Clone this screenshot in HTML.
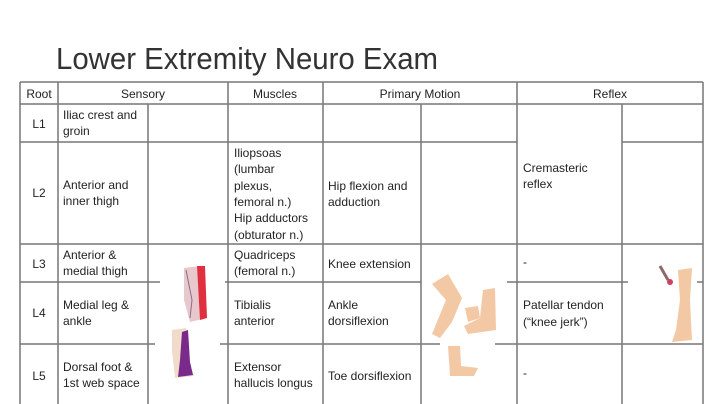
<!DOCTYPE html>
<html><head><meta charset="utf-8"><style>
html,body{margin:0;padding:0;background:#fff;}
svg{display:block;}
text{font-family:"Liberation Sans",sans-serif;fill:#222;font-size:12px;}
</style></head><body>
<svg width="720" height="404" viewBox="0 0 720 404" xmlns="http://www.w3.org/2000/svg">
<rect width="720" height="404" fill="#fff"/>
<text x="56" y="69" style="font-size:31px;fill:#333" textLength="382" lengthAdjust="spacingAndGlyphs">Lower Extremity Neuro Exam</text>
<g stroke="#777" stroke-width="1.5" fill="none">
<!-- outer / header -->
<line x1="20" y1="82" x2="703" y2="82"/>
<line x1="20" y1="104" x2="703" y2="104"/>
<line x1="20" y1="82" x2="20" y2="404"/>
<line x1="703" y1="82" x2="703" y2="404"/>
<!-- verticals -->
<line x1="58" y1="82" x2="58" y2="404"/>
<line x1="148" y1="104" x2="148" y2="404"/>
<line x1="228" y1="82" x2="228" y2="404"/>
<line x1="323" y1="82" x2="323" y2="404"/>
<line x1="421" y1="104" x2="421" y2="404"/>
<line x1="517" y1="82" x2="517" y2="404"/>
<line x1="622" y1="104" x2="622" y2="404"/>
<!-- row L1/L2 -->
<line x1="20" y1="142" x2="517" y2="142"/>
<line x1="622" y1="142" x2="703" y2="142"/>
<!-- row L2/L3 -->
<line x1="20" y1="244" x2="703" y2="244"/>
<!-- row L3/L4 -->
<line x1="20" y1="282" x2="160" y2="282"/>
<line x1="225" y1="282" x2="421" y2="282"/>
<line x1="507" y1="282" x2="628" y2="282"/>
<line x1="697" y1="282" x2="703" y2="282"/>
<!-- row L4/L5 -->
<line x1="20" y1="344" x2="155" y2="344"/>
<line x1="220" y1="344" x2="440" y2="344"/>
<line x1="495" y1="344" x2="703" y2="344"/>
</g>
<!-- header text -->
<text x="39" y="98" text-anchor="middle">Root</text>
<text x="143" y="98" text-anchor="middle">Sensory</text>
<text x="275" y="98" text-anchor="middle">Muscles</text>
<text x="420" y="98" text-anchor="middle">Primary Motion</text>
<text x="610" y="98" text-anchor="middle">Reflex</text>
<!-- L1 -->
<text x="39" y="128" text-anchor="middle">L1</text>
<text x="63" y="119">Iliac crest and</text>
<text x="63" y="135">groin</text>
<!-- L2 -->
<text x="39" y="197" text-anchor="middle">L2</text>
<text x="63" y="189">Anterior and</text>
<text x="63" y="205">inner thigh</text>
<text x="234" y="157">Iliopsoas</text>
<text x="234" y="173">(lumbar</text>
<text x="234" y="190">plexus,</text>
<text x="234" y="206">femoral n.)</text>
<text x="234" y="222">Hip adductors</text>
<text x="234" y="239">(obturator n.)</text>
<text x="328" y="190">Hip flexion and</text>
<text x="328" y="206">adduction</text>
<text x="523" y="172">Cremasteric</text>
<text x="523" y="188">reflex</text>
<!-- L3 -->
<text x="39" y="268" text-anchor="middle">L3</text>
<text x="63" y="259">Anterior &amp;</text>
<text x="63" y="275">medial thigh</text>
<text x="234" y="259">Quadriceps</text>
<text x="234" y="275">(femoral n.)</text>
<text x="328" y="268">Knee extension</text>
<text x="523" y="266">-</text>
<!-- L4 -->
<text x="39" y="317" text-anchor="middle">L4</text>
<text x="63" y="309">Medial leg &amp;</text>
<text x="63" y="325">ankle</text>
<text x="234" y="309">Tibialis</text>
<text x="234" y="325">anterior</text>
<text x="328" y="309">Ankle</text>
<text x="328" y="325">dorsiflexion</text>
<text x="523" y="309">Patellar tendon</text>
<text x="523" y="326">(“knee jerk”)</text>
<!-- L5 -->
<text x="39" y="380" text-anchor="middle">L5</text>
<text x="63" y="371">Dorsal foot &amp;</text>
<text x="63" y="387">1st web space</text>
<text x="234" y="371">Extensor</text>
<text x="234" y="387">hallucis longus</text>
<text x="328" y="380">Toe dorsiflexion</text>
<text x="523" y="377">-</text>
<!-- sensory images -->
<path d="M184 268 L200 266 L203 300 L207 318 L190 322 L184 300 Z" fill="#e8c8cc"/>
<path d="M197 266 L205 266 L207 318 L200 320 Z" fill="#e03040"/>
<path d="M186 270 L192 300 L190 318" stroke="#8a6a8a" stroke-width="1" fill="none"/>
<path d="M172 330 L186 328 L188 360 L194 376 L175 378 L172 350 Z" fill="#f0dcc8"/>
<path d="M182 332 L188 330 L190 362 L193 375 L178 377 L180 360 Z" fill="#7a2a8a"/>
<!-- motion images -->
<path d="M432 284 L448 274 L462 298 L452 322 L440 338 L432 334 L446 300 Z" fill="#f2c9a4"/>
<path d="M483 290 L495 288 L496 330 L468 334 L464 326 L480 318 Z" fill="#f2c9a4"/>
<path d="M465 308 L478 306 L480 318 L468 322 Z" fill="#f2c9a4"/>
<path d="M448 346 L460 346 L461 366 L478 368 L474 376 L450 376 Z" fill="#f2c9a4"/>
<!-- reflex image -->
<path d="M678 270 L692 268 L690 300 L692 340 L672 342 L676 330 L680 300 Z" fill="#f2c9a4"/>
<line x1="660" y1="266" x2="668" y2="280" stroke="#8a6a6a" stroke-width="3"/>
<circle cx="670" cy="282" r="3" fill="#d04060"/>
</svg>
</body></html>
